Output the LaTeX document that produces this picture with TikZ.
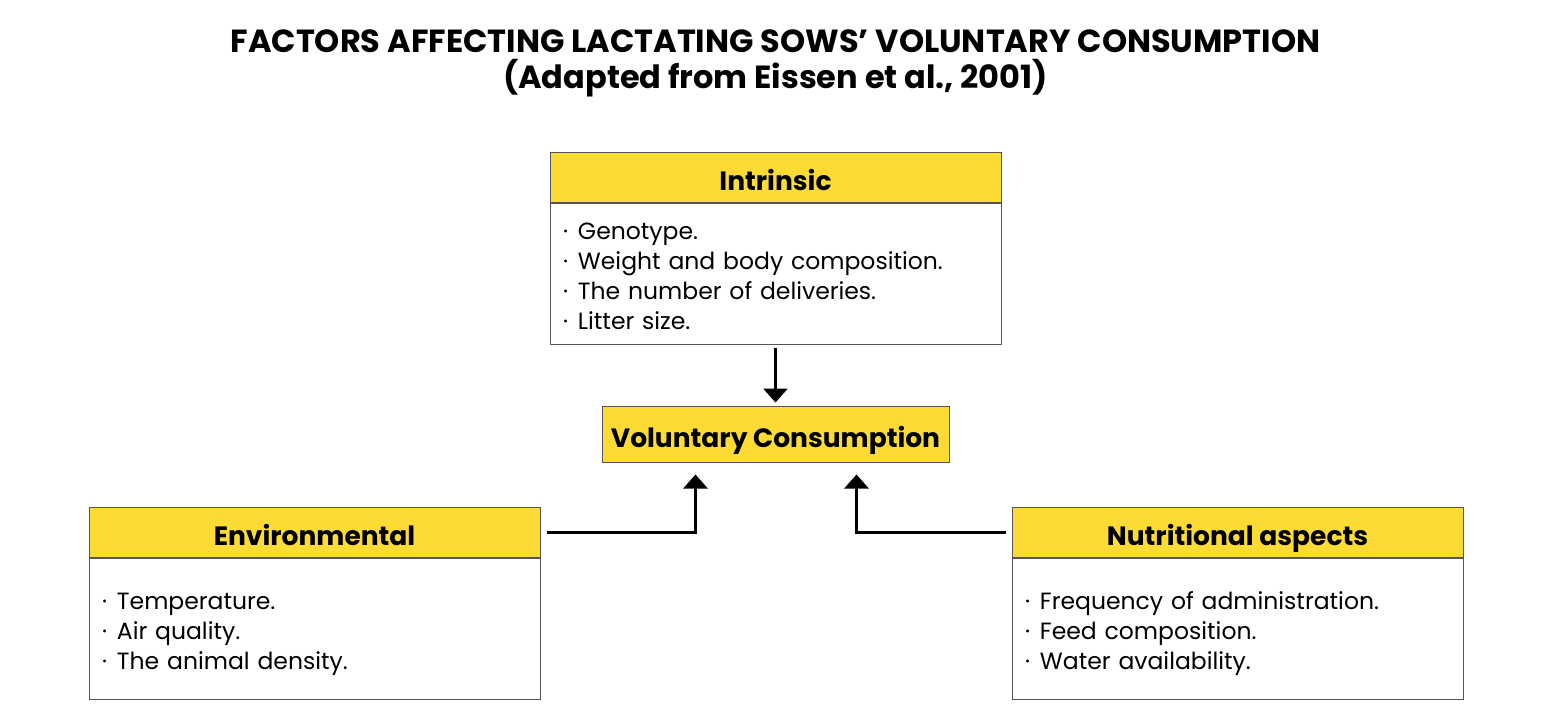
\documentclass[tikz,border=0pt]{standalone}
\usepackage{fontspec}
\setmainfont{Poppins}
\usepackage{xcolor}
\usetikzlibrary{positioning, arrows.meta}
\definecolor{headyellow}{HTML}{FCDC34}
\definecolor{boxgrey}{HTML}{555555}
\newcommand{\dotitem}[1]{·\hspace{10pt}#1}

\tikzset{
  headbox/.style={fill=headyellow, draw=boxgrey, line width=1pt, minimum width=451pt,
    minimum height=50pt, inner sep=0pt, text height=27pt, text depth=0pt,
    font=\bfseries\fontsize{26.5}{30}\selectfont},
  listbox/.style={draw=boxgrey, line width=1pt, minimum width=451pt, minimum height=141pt,
    text width=425pt, inner xsep=13pt, inner ysep=0pt, align=left,
    font=\fontsize{23.5}{30}\selectfont,
    execute at begin node=\rule{0pt}{28pt}, execute at end node=\rule[-6pt]{0pt}{6pt}},
  flow/.style={line width=3pt, -{Triangle[width=24pt, length=14pt]}},
}

\begin{document}
\begin{tikzpicture}[x=1pt, y=1pt]
  \useasboundingbox (0,0) rectangle (1554,-726);

  \node[font=\bfseries\fontsize{32}{36}\selectfont, align=center] (title) at (775.5,-63)
    {FACTORS AFFECTING LACTATING SOWS’ VOLUNTARY CONSUMPTION\\(Adapted from Eissen et al., 2001)};

  % top block
  \node[headbox] (intr) at (775.5,-177) {Intrinsic};
  \node[listbox, below=0pt of intr] (intrlist) {%
    \dotitem{Genotype.}\\
    \dotitem{Weight and body composition.}\\
    \dotitem{The number of deliveries.}\\
    \dotitem{Litter size.}};

  % centre
  \node[headbox, minimum width=347pt, minimum height=56pt] (vol) at (775.5,-434) {Voluntary Consumption};

  % left and right blocks
  \node[headbox] (env) at (314.5,-532) {Environmental};
  \node[listbox, below=0pt of env] (envlist) {%
    \dotitem{Temperature.}\\
    \dotitem{Air quality.}\\
    \dotitem{The animal density.}};

  \node[headbox] (nutr) at (1237.5,-532) {Nutritional aspects};
  \node[listbox, below=0pt of nutr] (nutrlist) {%
    \dotitem{Frequency of administration.}\\
    \dotitem{Feed composition.}\\
    \dotitem{Water availability.}};

  \draw[flow, shorten <=3pt, shorten >=3pt] (intrlist.south) -- (vol.north);
  \draw[flow] ([xshift=6pt]env.east) -| ([xshift=-80pt, yshift=-12pt]vol.south);
  \draw[flow] ([xshift=-6pt]nutr.west) -| ([xshift=81pt, yshift=-12pt]vol.south);
\end{tikzpicture}
\end{document}
